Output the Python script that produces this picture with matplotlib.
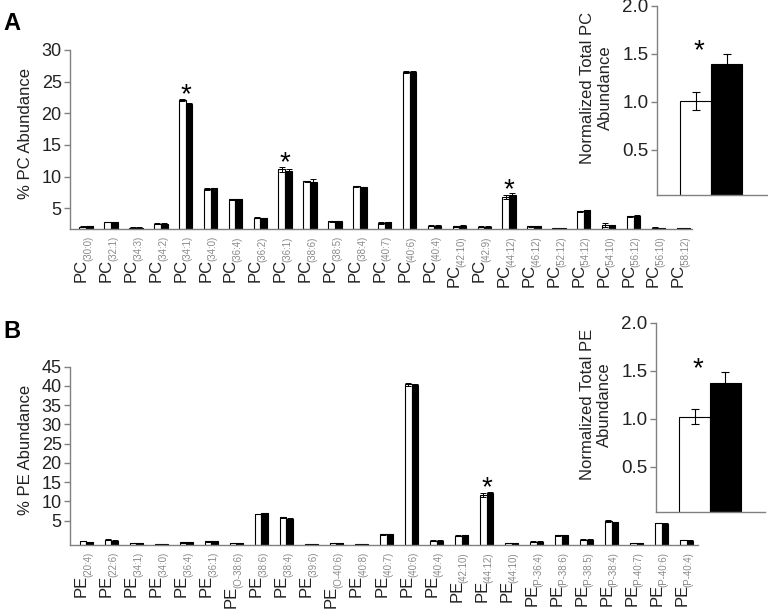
import matplotlib.pyplot as plt

plt.rcParams['font.family'] = ['Liberation Sans', 'DejaVu Sans']

# ---- panel A data (bar height above the x axis, in % units) ----
pc_species = ['30:0', '32:1', '34:3', '34:2', '34:1', '34:0', '36:4', '36:2', '36:1',
              '38:6', '38:5', '38:4', '40:7', '40:6', '40:4', '42:10', '42:9', '44:12',
              '46:12', '52:12', '54:12', '54:10', '56:12', '56:10', '58:12']
pc_ctrl = [0.41, 1.16, 0.25, 0.89, 20.46, 6.38, 4.75, 1.84, 9.49, 7.59, 1.27, 6.80, 1.00,
           24.84, 0.57, 0.47, 0.41, 5.11, 0.47, 0.20, 2.85, 0.68, 2.06, 0.25, 0.20]
pc_treat = [0.52, 1.16, 0.25, 0.89, 19.78, 6.49, 4.75, 1.79, 9.22, 7.48, 1.27, 6.69, 1.10,
            24.84, 0.57, 0.57, 0.41, 5.47, 0.47, 0.20, 3.00, 0.63, 2.15, 0.22, 0.20]
pc_ctrl_err = [0.05, 0.05, 0.05, 0.05, 0.15, 0.1, 0.05, 0.05, 0.4, 0.1, 0.05, 0.05, 0.1,
               0.1, 0.05, 0.05, 0.05, 0.35, 0.05, 0.05, 0.1, 0.3, 0.1, 0.05, 0.05]
pc_treat_err = [0.05, 0.05, 0.05, 0.05, 0.1, 0.1, 0.1, 0.05, 0.3, 0.4, 0.05, 0.05, 0.1,
                0.1, 0.05, 0.05, 0.05, 0.2, 0.05, 0.05, 0.1, 0.1, 0.1, 0.05, 0.05]
pc_stars = ['34:1', '36:1', '44:12']
pc_total = [1.01, 1.40]
pc_total_err = [0.09, 0.10]

# ---- panel B data ----
pe_species = ['20:4', '22:6', '34:1', '34:0', '36:4', '36:1', 'O-38:6', '38:6', '38:4',
              '39:6', 'O-40:6', '40:8', '40:7', '40:6', '40:4', '42:10', '44:12', '44:10',
              'P-36:4', 'P-38:6', 'P-38:5', 'P-38:4', 'P-40:7', 'P-40:6', 'P-40:4']
pe_ctrl = [1.04, 1.39, 0.52, 0.17, 0.69, 0.95, 0.52, 8.05, 7.19, 0.30, 0.45, 0.30, 2.77,
           41.7, 1.13, 2.42, 12.99, 0.52, 0.87, 2.51, 1.39, 6.32, 0.52, 5.71, 1.30]
pe_treat = [0.78, 1.13, 0.43, 0.17, 0.69, 0.95, 0.43, 8.23, 6.84, 0.30, 0.45, 0.30, 2.86,
            41.5, 1.13, 2.60, 13.40, 0.43, 0.87, 2.51, 1.39, 5.97, 0.43, 5.54, 1.13]
pe_ctrl_err = [0.05, 0.05, 0.05, 0.02, 0.05, 0.05, 0.05, 0.05, 0.1, 0.02, 0.05, 0.02, 0.05,
               0.3, 0.05, 0.05, 0.5, 0.05, 0.05, 0.05, 0.05, 0.3, 0.05, 0.1, 0.05]
pe_treat_err = [0.05, 0.05, 0.05, 0.02, 0.05, 0.05, 0.05, 0.05, 0.1, 0.02, 0.05, 0.02, 0.05,
                0.4, 0.05, 0.05, 0.4, 0.05, 0.05, 0.05, 0.05, 0.1, 0.05, 0.1, 0.05]
pe_stars = ['44:12']
pe_total = [1.02, 1.375]
pe_total_err = [0.08, 0.11]

W, H = 768, 615
GRAY = '#808080'
TXT = '#222222'


def px_axes(left, top, right, bottom):
    return fig.add_axes([left / W, 1 - bottom / H, (right - left) / W, (bottom - top) / H])


def style(ax, size):
    for s in ['top', 'right']:
        ax.spines[s].set_visible(False)
    for s in ['left', 'bottom']:
        ax.spines[s].set_color(GRAY)
        ax.spines[s].set_linewidth(1.0)
    ax.tick_params(axis='y', colors=GRAY, labelcolor=TXT, labelsize=size, length=4, width=1,
                   pad=2)
    ax.tick_params(axis='x', bottom=False, labelbottom=False)


def main_panel(ax, lipid, species, ctrl, treat, cerr, terr, stars, base, top, ticks, xmax):
    style(ax, 13)
    x = list(range(len(species)))
    w = 0.27
    xc = [i - w / 2 for i in x]
    xt = [i + w / 2 for i in x]
    ax.bar(xc, ctrl, w, bottom=base, color='white', edgecolor='black', linewidth=0.8)
    ax.bar(xt, treat, w, bottom=base, color='black', edgecolor='black', linewidth=0.8)
    ax.errorbar(xc, [base + v for v in ctrl], yerr=cerr, fmt='none', ecolor='black',
                elinewidth=0.7, capsize=2, capthick=0.7)
    ax.errorbar(xt, [base + v for v in treat], yerr=terr, fmt='none', ecolor='black',
                elinewidth=0.7, capsize=2, capthick=0.7)
    ax.set_xlim(-0.65, xmax)
    ax.set_ylim(base, top)
    ax.set_yticks(ticks)
    ax.set_ylabel('% ' + lipid + ' Abundance', fontsize=12, color=TXT)
    ax.yaxis.set_label_coords(-0.059, 0.535)
    for i, sp in enumerate(species):
        sub = ax.annotate('(' + sp + ')', xy=(i, 0), xycoords=('data', 'axes fraction'),
                          xytext=(1.5, -5), textcoords='offset points', rotation=90,
                          ha='center', va='top', fontsize=7, color='#8a8a8a')
        ax.annotate(lipid, xy=(0.5, 0), xycoords=sub, xytext=(-5, 2),
                    textcoords='offset points', rotation=90, ha='center', va='top',
                    fontsize=12, color=TXT)
        if sp in stars:
            hi = base + max(ctrl[i] + cerr[i], treat[i] + terr[i])
            ax.annotate('*', xy=(i, hi), xytext=(0, -2.5), textcoords='offset points',
                        ha='center', va='baseline', fontsize=20, color='black')


def inset(ax, lipid, vals, errs, left):
    style(ax, 13.5)
    ax.bar([0, 1], vals, 1, align='edge', color=['white', 'black'], edgecolor='black',
           linewidth=0.8)
    ax.errorbar([0.5, 1.5], vals, yerr=errs, fmt='none', ecolor='black',
                elinewidth=0.8, capsize=3, capthick=0.8)
    ax.set_xlim(left, 2.8)
    ax.set_ylim(0.03, 2.0)
    ax.set_yticks([0.5, 1.0, 1.5, 2.0])
    ax.set_yticklabels(['0.5', '1.0', '1.5', '2.0'])
    ax.set_ylabel('Normalized Total ' + lipid + '\nAbundance', fontsize=12, color=TXT)
    ax.yaxis.set_label_coords(-0.40, 0.568)
    ax.annotate('*', xy=(0.6, max(vals) + max(errs)), xytext=(0, -3),
                textcoords='offset points', ha='center', va='baseline', fontsize=20)


fig = plt.figure(figsize=(W / 100, H / 100), dpi=100)

ax_a = px_axes(70, 50, 692, 229.3)
main_panel(ax_a, 'PC', pc_species, pc_ctrl, pc_treat, pc_ctrl_err, pc_treat_err, pc_stars,
           1.68, 30, [5, 10, 15, 20, 25, 30], 24.35)

ax_b = px_axes(70, 366.7, 698, 545)
main_panel(ax_b, 'PE', pe_species, pe_ctrl, pe_treat, pe_ctrl_err, pe_treat_err, pe_stars,
           -1.3, 45, [5, 10, 15, 20, 25, 30, 35, 40, 45], 24.45)

ins_a = px_axes(656.7, 6, 767, 195)
inset(ins_a, 'PC', pc_total, pc_total_err, -0.75)

ins_b = px_axes(655.7, 322.7, 765, 511.7)
inset(ins_b, 'PE', pe_total, pe_total_err, -0.77)

fig.text(3 / W, 1 - 24 / H, 'A', fontsize=17, fontweight='bold', va='center')
fig.text(3 / W, 1 - 331 / H, 'B', fontsize=17, fontweight='bold', va='center')

fig.savefig('out.png', dpi=100)
